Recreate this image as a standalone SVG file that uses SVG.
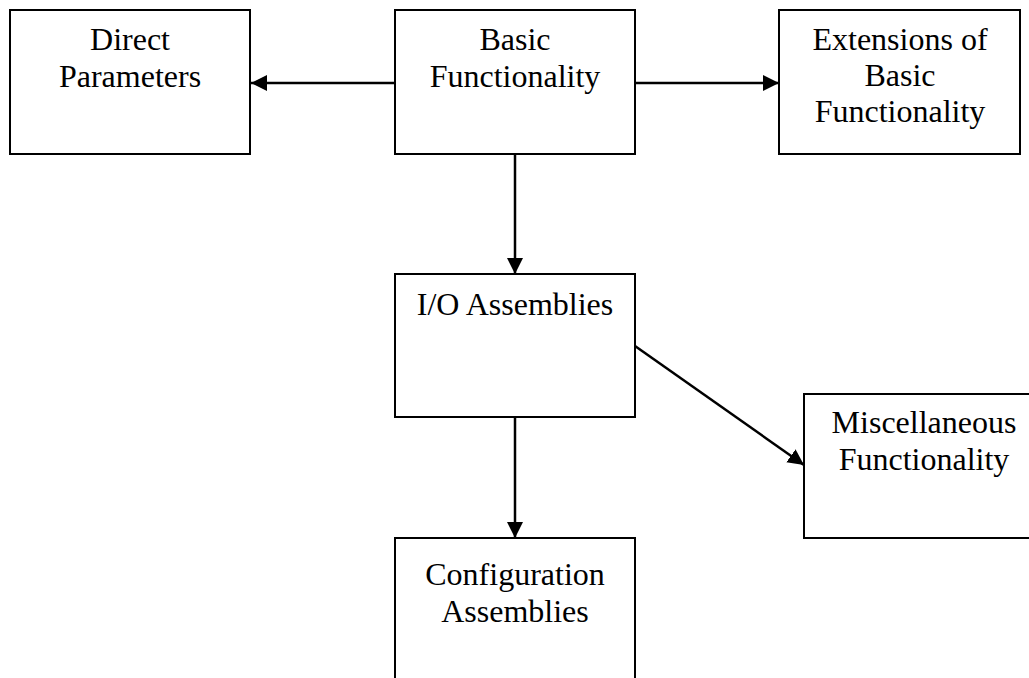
<svg xmlns="http://www.w3.org/2000/svg" width="1029" height="678" viewBox="0 0 1029 678">
<style>
.box{fill:#fff;stroke:#000;stroke-width:2}
.lbl{font-family:"Liberation Serif","Times New Roman",serif;font-size:32px;fill:#000;text-anchor:middle}
.con{stroke:#000;stroke-width:2.5;fill:none;marker-end:url(#ah)}
</style>
<defs>
<marker id="ah" markerUnits="userSpaceOnUse" markerWidth="17" markerHeight="17" refX="16" refY="8" orient="auto">
<path d="M0,0 L16,8 L0,16 z" fill="#000"/>
</marker>
</defs>
<rect width="1029" height="678" fill="#fff"/>
<g id="connectors">
<line class="con" x1="395" y1="83" x2="251" y2="83"/>
<line class="con" x1="635" y1="83" x2="779" y2="83"/>
<line class="con" x1="515" y1="154" x2="515" y2="274"/>
<line class="con" x1="515" y1="417" x2="515" y2="538"/>
<line class="con" x1="635" y1="346" x2="804" y2="465"/>
</g>
<g id="direct-parameters">
<rect class="box" x="10" y="10" width="240" height="144"/>
<text class="lbl" x="130" y="50">Direct</text>
<text class="lbl" x="130" y="87">Parameters</text>
</g>
<g id="basic-functionality">
<rect class="box" x="395" y="10" width="240" height="144"/>
<text class="lbl" x="515" y="50">Basic</text>
<text class="lbl" x="515" y="87">Functionality</text>
</g>
<g id="extensions">
<rect class="box" x="779" y="10" width="241" height="144"/>
<text class="lbl" x="900" y="50">Extensions of</text>
<text class="lbl" x="900" y="86">Basic</text>
<text class="lbl" x="900" y="122">Functionality</text>
</g>
<g id="io-assemblies">
<rect class="box" x="395" y="274" width="240" height="143"/>
<text class="lbl" x="515" y="315">I/O Assemblies</text>
</g>
<g id="misc-functionality">
<rect class="box" x="804" y="394" width="240" height="144"/>
<text class="lbl" x="924" y="433">Miscellaneous</text>
<text class="lbl" x="924" y="470">Functionality</text>
</g>
<g id="config-assemblies">
<rect class="box" x="395" y="538" width="240" height="160"/>
<text class="lbl" x="515" y="585">Configuration</text>
<text class="lbl" x="515" y="622">Assemblies</text>
</g>
</svg>
